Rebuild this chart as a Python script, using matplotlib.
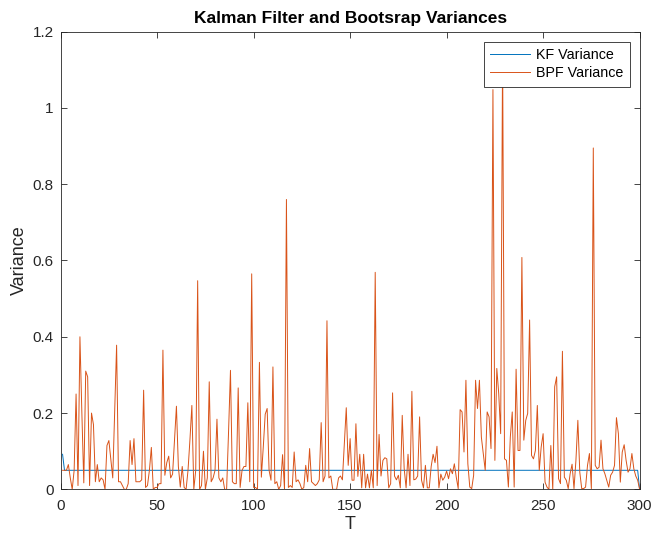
import numpy as np
import matplotlib
matplotlib.use("Agg")
import matplotlib.pyplot as plt

plt.rcParams['font.family'] = ['Liberation Sans', 'DejaVu Sans']

# time steps 1..300
t = np.arange(1, 301)

# Kalman filter variance (settles almost immediately)
kf_var = [0.092] + [0.05] * 298 + [0.0]

# bootstrap particle filter variance
bpf_var = [
    0.05, 0.05, 0.05, 0.065, 0.03, 0.0, 0.05, 0.25, 0.01, 0.40,
    0.2, 0.017, 0.31, 0.295, 0.01, 0.20, 0.17, 0.02, 0.065, 0.02,
    0.03, 0.025, 0.0, 0.115, 0.128, 0.08, 0.03, 0.2, 0.378, 0.02,
    0.02, 0.01, 0.0, 0.0, 0.015, 0.128, 0.065, 0.133, 0.02, 0.02,
    0.02, 0.025, 0.26, 0.005, 0.01, 0.05, 0.11, 0.0, 0.005, 0.005,
    0.015, 0.015, 0.365, 0.037, 0.07, 0.087, 0.03, 0.04, 0.13, 0.218,
    0.06, 0.006, 0.06, 0.005, 0.0, 0.05, 0.13, 0.22, 0.0, 0.05,
    0.547, 0.0, 0.01, 0.10, 0.0, 0.03, 0.282, 0.02, 0.03, 0.05,
    0.184, 0.03, 0.02, 0.03, 0.0, 0.0, 0.15, 0.312, 0.02, 0.015,
    0.015, 0.266, 0.005, 0.05, 0.06, 0.06, 0.227, 0.02, 0.565, 0.005,
    0.005, 0.0, 0.333, 0.032, 0.111, 0.197, 0.212, 0.05, 0.024, 0.321,
    0.015, 0.02, 0.0, 0.01, 0.091, 0.0, 0.76, 0.005, 0.01, 0.005,
    0.098, 0.02, 0.025, 0.015, 0.0, 0.005, 0.063, 0.02, 0.107, 0.02,
    0.015, 0.01, 0.015, 0.025, 0.175, 0.02, 0.035, 0.442, 0.03, 0.035,
    0.0, 0.0, 0.0, 0.03, 0.035, 0.025, 0.12, 0.214, 0.063, 0.133,
    0.024, 0.024, 0.172, 0.034, 0.092, 0.004, 0.092, 0.004, 0.04, 0.004,
    0.05, 0.004, 0.569, 0.01, 0.144, 0.035, 0.076, 0.083, 0.08, 0.004,
    0.015, 0.253, 0.035, 0.025, 0.037, 0.004, 0.194, 0.055, 0.004, 0.092,
    0.01, 0.257, 0.025, 0.027, 0.035, 0.19, 0.024, 0.004, 0.063, 0.004,
    0.004, 0.06, 0.092, 0.07, 0.113, 0.004, 0.04, 0.024, 0.032, 0.048,
    0.028, 0.054, 0.041, 0.067, 0.032, 0.002, 0.209, 0.203, 0.098, 0.286,
    0.067, 0.006, 0.002, 0.037, 0.286, 0.212, 0.286, 0.137, 0.094, 0.05,
    0.203, 0.19, 0.107, 1.048, 0.076, 0.317, 0.251, 0.146, 1.15, 0.08,
    0.076, 0.006, 0.137, 0.203, 0.006, 0.315, 0.102, 0.102, 0.608, 0.129,
    0.181, 0.199, 0.444, 0.089, 0.08, 0.102, 0.22, 0.05, 0.111, 0.146,
    0.019, 0.006, 0.0, 0.115, 0.0, 0.269, 0.295, 0.028, 0.015, 0.362,
    0.032, 0.024, 0.002, 0.041, 0.066, 0.002, 0.076, 0.181, 0.045, 0.002,
    0.002, 0.006, 0.063, 0.094, 0.002, 0.895, 0.063, 0.054, 0.058, 0.129,
    0.054, 0.041, 0.024, 0.006, 0.037, 0.045, 0.063, 0.188, 0.146, 0.019,
    0.098, 0.117, 0.076, 0.045, 0.054, 0.094, 0.054, 0.035, 0.024, 0.0,
]

x_ticks = [0, 50, 100, 150, 200, 250, 300]
y_ticks = [0, 0.2, 0.4, 0.6, 0.8, 1.0, 1.2]
y_tick_labels = ['0', '0.2', '0.4', '0.6', '0.8', '1', '1.2']

axis_grey = '#262626'

fig = plt.figure(figsize=(6.52, 5.36), dpi=100)
ax = fig.add_axes([0.093, 0.087, 0.888, 0.854])

ax.plot(t, kf_var, color='#0072BD', lw=0.7, label='KF Variance')
ax.plot(t, bpf_var, color='#D95319', lw=0.7, label='BPF Variance')

ax.set_xlim(0, 300)
ax.set_ylim(0, 1.2)
ax.set_xticks(x_ticks)
ax.set_yticks(y_ticks)
ax.set_yticklabels(y_tick_labels)

# matlab style: ticks inside and on all four sides
ax.tick_params(direction='in', top=True, right=True, length=4, width=0.6,
               colors=axis_grey, labelsize=11, pad=5)
ax.tick_params(axis='x', pad=7)
for s in ax.spines.values():
    s.set_color(axis_grey)
    s.set_linewidth(0.6)

ax.set_title('Kalman Filter and Bootsrap Variances', fontsize=12.5,
             fontweight='bold', pad=6)
ax.set_xlabel('T', fontsize=13, color=axis_grey, labelpad=2)
ax.set_ylabel('Variance', fontsize=13, color=axis_grey, labelpad=3)

leg = ax.legend(loc='upper right', fontsize=10.3, fancybox=False,
                framealpha=1, borderaxespad=0.7, handlelength=2.8,
                handletextpad=0.4, borderpad=0.45, labelspacing=0.3)
leg.get_frame().set_edgecolor('#262626')
leg.get_frame().set_linewidth(0.6)

fig.savefig('out.png', dpi=100)
